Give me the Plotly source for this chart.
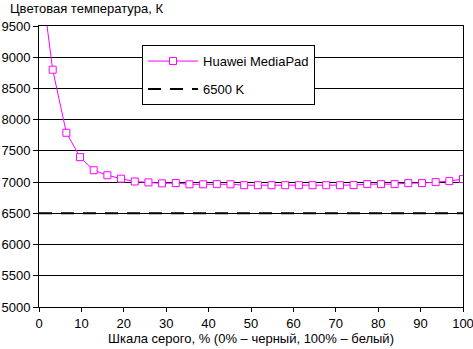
import plotly.graph_objects as go

# Grey scale levels (32 steps, 0..100 %)
gray_pct = [0.0, 3.23, 6.45, 9.68, 12.9, 16.13, 19.35, 22.58, 25.81, 29.03, 32.26,
            35.48, 38.71, 41.94, 45.16, 48.39, 51.61, 54.84, 58.06, 61.29, 64.52,
            67.74, 70.97, 74.19, 77.42, 80.65, 83.87, 87.1, 90.32, 93.55, 96.77, 100.0]
huawei_k = [10500, 8800, 7790, 7400, 7190, 7110, 7055, 7010, 6995, 6980, 6985,
            6965, 6965, 6968, 6965, 6950, 6950, 6950, 6950, 6950, 6950,
            6950, 6950, 6952, 6968, 6968, 6968, 6984, 6984, 7000, 7016, 7048]
ref_x = [0, 100]
ref_k = [6500, 6500]

series_name = "Huawei MediaPad"
ref_name = "6500 K"
y_title = "Цветовая температура, К"
x_title = "Шкала серого, % (0% – черный, 100% – белый)"
y_ticks = [5000, 5500, 6000, 6500, 7000, 7500, 8000, 8500, 9000, 9500]
x_ticks = [0, 10, 20, 30, 40, 50, 60, 70, 80, 90, 100]

FONT = "Liberation Sans, Arial, sans-serif"

fig = go.Figure()
fig.add_trace(go.Scatter(
    x=gray_pct, y=huawei_k, name=series_name, mode="lines+markers",
    line=dict(color="#FF00FF", width=1),
    marker=dict(symbol="square", size=7, color="white",
                line=dict(color="#FF00FF", width=1)),
    legendgroup="a",
))
fig.add_trace(go.Scatter(
    x=ref_x, y=ref_k, name=ref_name, mode="lines",
    line=dict(color="black", width=2, dash="13px,9px"),
    legendgroup="b",
))

fig.update_layout(
    width=473, height=349,
    margin=dict(l=39, r=10, t=26, b=42, autoexpand=False),
    paper_bgcolor="white", plot_bgcolor="white",
    font=dict(family=FONT, size=13, color="black"),
    showlegend=True,
    legend=dict(
        x=0.243, y=0.932, xanchor="left", yanchor="top",
        bgcolor="white", bordercolor="black", borderwidth=1,
        font=dict(family=FONT, size=13, color="black"),
        tracegroupgap=8,
        itemwidth=50,
    ),
    xaxis=dict(
        range=[0, 100], tickvals=x_ticks, showgrid=False, zeroline=False,
        showline=True, linecolor="black", linewidth=1, mirror=True,
        ticks="outside", ticklen=4, tickcolor="black",
        ticklabeloverflow="allow",
        title=dict(text=x_title, standoff=3, font=dict(size=13)),
        fixedrange=True,
    ),
    yaxis=dict(
        range=[5000, 9500], tickvals=y_ticks, showgrid=True,
        gridcolor="black", gridwidth=1, zeroline=False,
        showline=True, linecolor="black", linewidth=1, mirror=True,
        ticks="outside", ticklen=5, tickcolor="black",
        fixedrange=True,
    ),
    annotations=[dict(
        text=y_title, xref="paper", yref="paper",
        x=-0.073, y=1.064, xanchor="left", yanchor="middle",
        showarrow=False, font=dict(family=FONT, size=13, color="black"),
    )],
)

fig.write_html("out.html")
